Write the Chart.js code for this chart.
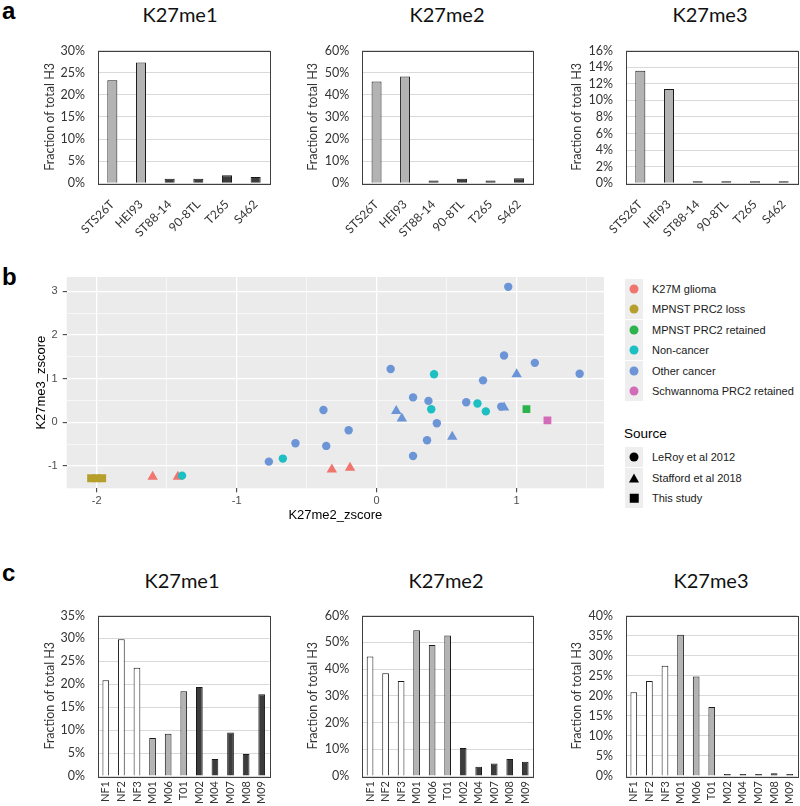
<!DOCTYPE html>
<html>
<head>
<meta charset="utf-8">
<script src="https://cdn.jsdelivr.net/npm/chart.js@4.4.0/dist/chart.umd.min.js"></script>
<style>
  body { margin: 0; background: #fff; }
  #page { position: relative; width: 800px; height: 806px; overflow: hidden; font-family: Lato, sans-serif; }
  canvas { position: absolute; }
  .t { position: absolute; white-space: nowrap; line-height: 1; transform: translate(-50%, -50%); }
  .l { position: absolute; white-space: nowrap; line-height: 1; transform: translate(0, -50%); }
  .letter { font-family: "Liberation Sans", Arial, sans-serif; font-weight: bold; font-size: 24px; color: #000; }
  .ttl { font-family: Lato, sans-serif; font-size: 20px; color: #111; }
  .key { position: absolute; width: 18px; height: 20px; background: #eeeeee; }
  .key i { position: absolute; left: 50%; top: 50%; transform: translate(-50%, -50%); display: block; }
  .leg { font-family: "Liberation Sans", Arial, sans-serif; font-size: 11px; color: #1a1a1a; }
</style>
</head>
<body>
<div id="page">
  <div class="l letter" style="left:2px;top:11px">a</div>
  <div class="l letter" style="left:2px;top:277px">b</div>
  <div class="l letter" style="left:2px;top:573px">c</div>

  <div class="t ttl" style="left:180px;top:14px">K27me1</div>
  <div class="t ttl" style="left:447px;top:14px">K27me2</div>
  <div class="t ttl" style="left:710px;top:14px">K27me3</div>
  <div class="t ttl" style="left:182px;top:580px">K27me1</div>
  <div class="t ttl" style="left:446px;top:580px">K27me2</div>
  <div class="t ttl" style="left:711px;top:580px">K27me3</div>

  <canvas id="a1" width="272" height="210" style="left:0;top:30px"></canvas>
  <canvas id="a2" width="264" height="210" style="left:272px;top:30px"></canvas>
  <canvas id="a3" width="264" height="210" style="left:536px;top:30px"></canvas>

  <canvas id="b" width="620" height="290" style="left:0;top:240px"></canvas>
  <div id="legend"></div>

  <canvas id="c1" width="272" height="211" style="left:0;top:595px"></canvas>
  <canvas id="c2" width="264" height="211" style="left:272px;top:595px"></canvas>
  <canvas id="c3" width="264" height="211" style="left:536px;top:595px"></canvas>
</div>

<script>
/* ---- data: panel a (cell lines) ---- */
const cellLines = ['STS26T', 'HEI93', 'ST88-14', '90-8TL', 'T265', 'S462'];
const aMe1 = [23.3, 27.3, 1.0, 1.05, 1.8, 1.4];
const aMe2 = [46.0, 48.3, 1.3, 2.1, 1.3, 2.3];
const aMe3 = [13.55, 11.36, 0.05, 0.05, 0.12, 0.08];

/* ---- data: panel c (tumours) ---- */
const samples = ['NF1', 'NF2', 'NF3', 'M01', 'M06', 'T01', 'M02', 'M04', 'M07', 'M08', 'M09'];
const cMe1 = [20.9, 29.8, 23.6, 8.3, 9.2, 18.5, 19.4, 3.7, 9.5, 4.8, 17.8];
const cMe2 = [44.7, 38.4, 35.5, 54.5, 49.0, 52.5, 10.5, 3.5, 4.7, 6.4, 5.3];
const cMe3 = [20.9, 23.7, 27.5, 35.2, 24.8, 17.2, 0.4, 0.2, 0.4, 0.7, 0.2];

// which bars are white / grey, the rest are dark
const whiteBars = ['NF1', 'NF2', 'NF3'];
const greyBars = ['STS26T', 'HEI93', 'M01', 'M06', 'T01'];

/* ---- data: panel b (z-scores, [K27me2, K27me3]) ---- */
const gliomaStafford = [[-1.60, -1.245], [-1.42, -1.245], [-0.32, -1.08], [-0.19, -1.04]];
const prc2LossStudy = [[-2.04, -1.28], [-2.00, -1.28], [-1.96, -1.28]];
const prc2RetainedStudy = [[1.07, 0.30]];
const nonCancerLeroy = [[-1.39, -1.22], [-0.67, -0.83], [0.39, 0.30], [0.41, 1.10], [0.72, 0.43], [0.78, 0.25]];
const otherLeroy = [[-0.77, -0.90], [-0.58, -0.48], [-0.38, 0.28], [-0.36, -0.54], [-0.20, -0.18],
  [0.10, 1.22], [0.26, 0.57], [0.26, -0.77], [0.36, -0.41], [0.37, 0.49], [0.43, -0.02],
  [0.64, 0.46], [0.76, 0.96], [0.89, 0.36], [0.91, 1.53], [0.94, 3.10], [1.13, 1.36], [1.45, 1.11]];
const otherStafford = [[0.14, 0.26], [0.18, 0.09], [0.54, -0.33], [0.91, 0.34], [1.00, 1.10]];
const schwannomaStudy = [[1.22, 0.045]];

const groupNames = ['K27M glioma', 'MPNST PRC2 loss', 'MPNST PRC2 retained', 'Non-cancer', 'Other cancer', 'Schwannoma PRC2 retained'];
const sourceNames = ['LeRoy et al 2012', 'Stafford et al 2018', 'This study'];
const xBreaks = [-2, -1, 0, 1];
const yBreaks = [-1, 0, 1, 2, 3];

const groupColors = ['#f0756f', '#b79f2c', '#2db34b', '#1cbfc2', '#6b95d6', '#d26cb9'];
const sourceShapes = ['circle', 'triangle', 'rect'];

/* ---- box round the plot area, like Excel ---- */
const boxBorder = {
  id: 'boxBorder',
  afterDatasetsDraw(chart) {
    const { ctx, chartArea: a } = chart;
    ctx.save();
    ctx.strokeStyle = '#404040';
    ctx.lineWidth = 1;
    ctx.strokeRect(Math.round(a.left) + 0.5, Math.round(a.top) + 0.5,
      Math.round(a.right - a.left), Math.round(a.bottom - a.top));
    ctx.restore();
  }
};

function fillFor(name) {
  if (whiteBars.includes(name)) return '#ffffff';
  if (greyBars.includes(name)) return '#b3b3b3';
  return '#3c3c3c';
}

function barChart(id, labels, values, o) {
  return new Chart(document.getElementById(id), {
    type: 'bar',
    data: {
      labels,
      datasets: [{
        data: values,
        backgroundColor: labels.map(fillFor),
        borderColor: '#1a1a1a',
        borderWidth: 1,
        minBarLength: 2,
        barPercentage: o.bar,
        categoryPercentage: 1,
      }]
    },
    options: {
      responsive: false,
      animation: false,
      layout: { padding: { top: o.top, right: o.right, left: 0, bottom: 0 } },
      plugins: { legend: { display: false }, tooltip: { enabled: false } },
      scales: {
        x: {
          grid: { display: false },
          border: { display: false },
          ticks: {
            autoSkip: false, minRotation: o.rot, maxRotation: o.rot, padding: o.xpad,
            color: '#333', font: { family: 'Lato', size: o.xfont }
          },
          afterFit: s => { s.height = o.xh; }
        },
        y: {
          min: 0, max: o.max,
          grid: { color: '#d9d9d9', drawTicks: false },
          border: { display: false },
          ticks: {
            autoSkip: false, stepSize: o.step, padding: 13, color: '#333',
            font: { family: 'Lato', size: 12.5 },
            callback: v => v + '%'
          },
          title: {
            display: true, text: 'Fraction of total H3', color: '#333',
            font: { family: 'Lato', size: 12.5 }, padding: { top: o.tpad, bottom: 0 }
          },
          afterFit: s => { s.width = o.yw; }
        }
      }
    },
    plugins: [boxBorder]
  });
}

const rowA = { top: 11.7, xh: 56.7, rot: 45, xpad: 6, bar: 0.35, xfont: 12 };
barChart('a1', cellLines, aMe1, { ...rowA, right: 2, yw: 98, tpad: 42.5, max: 30, step: 5 });
barChart('a2', cellLines, aMe2, { ...rowA, right: 2.7, yw: 90.3, tpad: 33.8, max: 60, step: 10 });
barChart('a3', cellLines, aMe3, { ...rowA, right: 2, yw: 90, tpad: 33.2, max: 16, step: 2 });

const rowC = { top: 16, xh: 30, rot: 90, xpad: -3, bar: 0.43, xfont: 11 };
barChart('c1', samples, cMe1, { ...rowC, right: 2, yw: 98, tpad: 42.5, max: 35, step: 5 });
barChart('c2', samples, cMe2, { ...rowC, right: 3, yw: 90.3, tpad: 33.8, max: 60, step: 10 });
barChart('c3', samples, cMe3, { ...rowC, right: 2, yw: 90, tpad: 33.2, max: 40, step: 5 });

/* ---- panel b: ggplot-like scatter ---- */
const greyPanel = {
  id: 'greyPanel',
  beforeDraw(chart) {
    const { ctx, chartArea: a } = chart;
    ctx.save();
    ctx.fillStyle = '#ebebeb';
    ctx.fillRect(a.left, a.top, a.right - a.left, a.bottom - a.top);
    ctx.restore();
  }
};

function withMinor(breaks) {
  const out = [];
  breaks.forEach((v, i) => {
    out.push(v);
    if (i < breaks.length - 1) out.push(v + 0.5);
  });
  return out;
}
const xGrid = [...withMinor(xBreaks), xBreaks[xBreaks.length - 1] + 0.5];
const yGrid = [...withMinor(yBreaks)];

function pts(list) { return list.map(p => ({ x: p[0], y: p[1] })); }
function series(points, group, source, r) {
  return {
    data: pts(points),
    pointStyle: sourceShapes[source],
    pointRadius: r,
    backgroundColor: groupColors[group],
    borderColor: groupColors[group],
    borderWidth: 0,
  };
}

const isMajor = v => Math.abs(v - Math.round(v)) < 1e-6;
const ggAxis = (grid, min, max) => ({
  min, max,
  afterBuildTicks: s => { s.ticks = grid.map(v => ({ value: v })); },
  grid: {
    color: '#ffffff',
    lineWidth: c => (c.tick && isMajor(c.tick.value) ? 1.3 : 0.6),
    tickColor: c => (c.tick && isMajor(c.tick.value) ? '#333333' : 'rgba(0,0,0,0)'),
    tickLength: 4,
    tickWidth: 1,
  },
  border: { display: false },
  ticks: {
    color: '#4d4d4d', font: { family: 'Liberation Sans', size: 11 },
    callback: v => (isMajor(v) ? String(Math.round(v)) : ''),
  },
});

const xAxisB = ggAxis(xGrid, -2.214, 1.624);
xAxisB.ticks.padding = 2;
xAxisB.title = { display: true, text: 'K27me2_zscore', color: '#000', font: { family: 'Liberation Sans', size: 13 }, padding: { top: 0, bottom: 7 } };
xAxisB.afterFit = s => { s.height = 41.7; };

const yAxisB = ggAxis(yGrid, -1.51, 3.325);
yAxisB.ticks.padding = 5;
yAxisB.title = { display: true, text: 'K27me3_zscore', color: '#000', font: { family: 'Liberation Sans', size: 13 }, padding: { top: 34, bottom: 0 } };
yAxisB.afterFit = s => { s.width = 66.7; };

new Chart(document.getElementById('b'), {
  type: 'scatter',
  data: {
    datasets: [
      series(otherLeroy, 4, 0, 4.2),
      series(otherStafford, 4, 1, 6),
      series(nonCancerLeroy, 3, 0, 4.2),
      series(gliomaStafford, 0, 1, 6),
      series(prc2LossStudy, 1, 2, 5.5),
      series(prc2RetainedStudy, 2, 2, 5.5),
      series(schwannomaStudy, 5, 2, 5.5),
    ]
  },
  options: {
    responsive: false,
    animation: false,
    layout: { padding: { top: 37, right: 16, left: 0, bottom: 0 } },
    plugins: { legend: { display: false }, tooltip: { enabled: false } },
    scales: { x: xAxisB, y: yAxisB }
  },
  plugins: [greyPanel]
});

/* ---- panel b legend (html) ---- */
(function buildLegend() {
  const box = document.getElementById('legend');
  let html = '';
  groupNames.forEach((name, i) => {
    const cy = 288.7 + i * 20.5;
    html += `<div class="key" style="left:625px;top:${cy - 10}px"><i style="width:9px;height:9px;border-radius:50%;background:${groupColors[i]}"></i></div>`;
    html += `<div class="l leg" style="left:652px;top:${cy}px">${name}</div>`;
  });
  html += `<div class="l leg" style="left:624px;top:433.5px;font-size:13.5px;color:#000">Source</div>`;
  const shapes = [
    'width:9px;height:9px;border-radius:50%;background:#000',
    'width:0;height:0;border-left:5.5px solid transparent;border-right:5.5px solid transparent;border-bottom:9.5px solid #000',
    'width:8.5px;height:8.5px;background:#000'
  ];
  sourceNames.forEach((name, i) => {
    const cy = 457 + i * 20.5;
    html += `<div class="key" style="left:625px;top:${cy - 10}px"><i style="${shapes[i]}"></i></div>`;
    html += `<div class="l leg" style="left:652px;top:${cy}px">${name}</div>`;
  });
  box.innerHTML = html;
})();
</script>
</body>
</html>
